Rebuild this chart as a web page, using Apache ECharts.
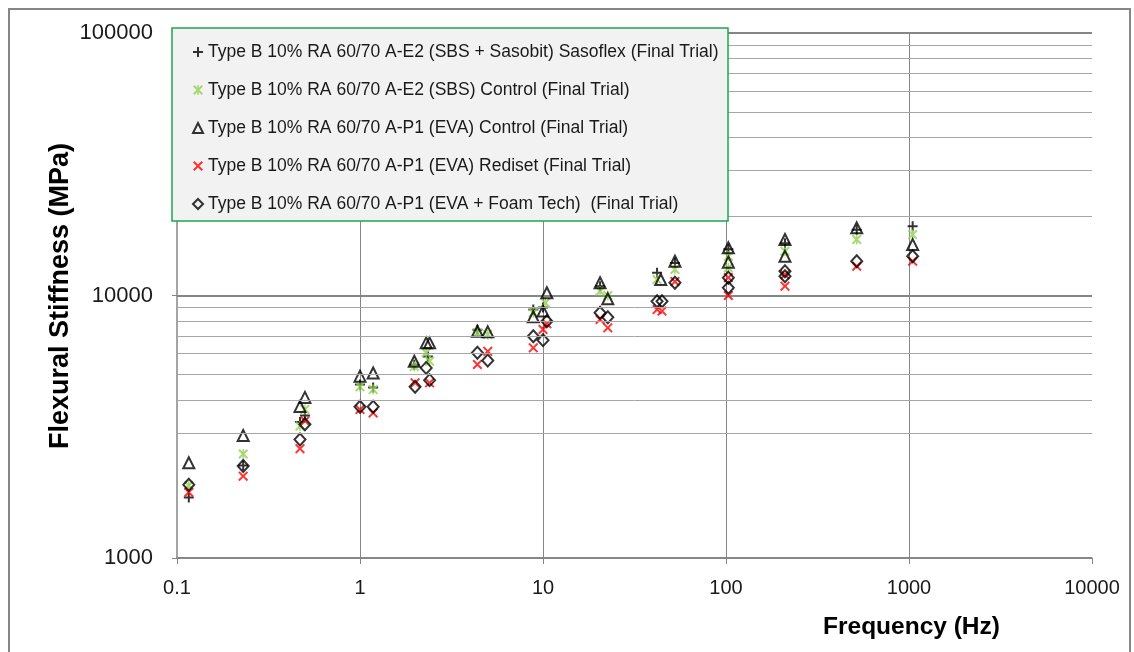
<!DOCTYPE html>
<html>
<head>
<meta charset="utf-8">
<script src="https://cdn.jsdelivr.net/npm/echarts@6/dist/echarts.min.js"></script>
<style>
  html, body { margin: 0; padding: 0; background: #fff; }
  #chart { width: 1134px; height: 652px; }
</style>
</head>
<body>
<div id="chart"></div>
<script>
// Flexural stiffness vs. loading frequency, 4-point bending, five mixes

const seriesNames = [
  'Type B 10% RA 60/70 A-E2 (SBS + Sasobit) Sasoflex (Final Trial)',
  'Type B 10% RA 60/70 A-E2 (SBS) Control (Final Trial)',
  'Type B 10% RA 60/70 A-P1 (EVA) Control (Final Trial)',
  'Type B 10% RA 60/70 A-P1 (EVA) Rediset (Final Trial)',
  'Type B 10% RA 60/70 A-P1 (EVA + Foam Tech)  (Final Trial)'
];

// SBS + Sasobit / Sasoflex
const sasoflexFreq = [0.116, 0.23, 0.47, 0.50, 1.0, 1.18, 1.98, 2.35, 4.38, 8.85, 10.0, 20.5, 42, 52.6, 103, 210, 518, 1047];
const sasoflexVal  = [1700, 2250, 3300, 3490, 4580, 4460, 5450, 5850, 7400, 8850, 9000, 10850, 12200, 13300, 15000, 15800, 17800, 18370];

// SBS control
const sbsFreq = [0.116, 0.23, 0.47, 0.50, 1.0, 1.18, 1.98, 2.3, 2.4, 4.38, 4.99, 8.85, 10.3, 20.5, 22.6, 42, 52.6, 103, 103, 210, 518, 1047];
const sbsVal  = [1890, 2490, 3180, 3680, 4490, 4380, 5370, 6050, 5620, 7200, 7100, 8600, 9380, 10380, 10000, 11500, 12560, 14100, 12750, 14750, 16340, 17070];

// EVA control
const evaFreq = [0.116, 0.23, 0.47, 0.50, 1.0, 1.18, 1.98, 2.3, 2.4, 4.38, 4.99, 8.85, 10.0, 10.5, 20.5, 22.6, 44, 52.6, 103, 103, 210, 210, 518, 1047];
const evaVal  = [2306, 2930, 3780, 4090, 4930, 5070, 5620, 6600, 6600, 7310, 7270, 8300, 8720, 10240, 11180, 9710, 11500, 13510, 15200, 13400, 16340, 14100, 18100, 15630];

// EVA + Rediset
const redisetFreq = [0.116, 0.23, 0.47, 0.50, 1.0, 1.18, 2.0, 2.4, 4.38, 4.99, 8.85, 10.0, 10.5, 20.5, 22.6, 42, 44.7, 52.6, 103, 103, 210, 210, 518, 1047];
const redisetVal  = [1780, 2050, 2610, 3330, 3680, 3570, 4650, 4650, 5460, 6130, 6320, 7420, 7800, 8100, 7530, 8840, 8720, 11300, 11700, 10000, 10850, 12000, 12930, 13510];

// EVA + Foam Tech
const foamFreq = [0.116, 0.23, 0.47, 0.50, 1.0, 1.18, 2.0, 2.3, 2.4, 4.38, 4.99, 8.85, 10.0, 10.5, 20.5, 22.6, 42, 44.7, 52.6, 103, 103, 210, 210, 518, 1047];
const foamVal  = [1900, 2240, 2830, 3230, 3770, 3770, 4490, 5300, 4760, 6050, 5650, 7000, 6760, 7980, 8590, 8270, 9510, 9510, 11180, 11680, 10700, 12380, 11850, 13510, 14100];

// light horizontal gridlines inside each decade
const minorGridValues = [3000, 4000, 5000, 6000, 7000, 8000, 9000,
                         20000, 30000, 40000, 50000, 60000, 70000, 80000, 90000];

const xTickLabels = ['0.1', '1', '10', '100', '1000', '10000'];
const yTickLabels = ['1000', '10000', '100000'];

const pairs = (f, v) => f.map((x, i) => [x, v[i]]);

const PLUS = 'path://M4,0H6V4H10V6H6V10H4V6H0V4H4Z';
const CROSS = 'path://M0,1.4L1.4,0L5,3.6L8.6,0L10,1.4L6.4,5L10,8.6L8.6,10L5,6.4L1.4,10L0,8.6L3.6,5Z';
const STAR = 'path://M0,1.4L1.4,0L5,3.6L8.6,0L10,1.4L6.4,5L10,8.6L8.6,10L5,6.4L1.4,10L0,8.6L3.6,5Z M4.3,0H5.7V10H4.3Z';

const FONT = "'Liberation Sans', Arial, sans-serif";

const chart = echarts.init(document.getElementById('chart'), null, { renderer: 'canvas' });

chart.setOption({
  animation: false,
  backgroundColor: '#ffffff',
  grid: { left: 177, right: 42, top: 33, bottom: 94, containLabel: false },
  xAxis: {
    type: 'log', logBase: 10, min: 0.1, max: 10000,
    axisLine: { show: true, lineStyle: { color: '#868686', width: 1.5 } },
    axisTick: { show: true, length: 6, lineStyle: { color: '#868686' } },
    axisLabel: {
      margin: 20, fontFamily: FONT, fontSize: 20, color: '#1a1a1a',
      formatter: (v) => {
        const k = Math.round(Math.log10(v)) + 1;
        return xTickLabels[k] !== undefined ? xTickLabels[k] : String(v);
      }
    },
    splitLine: { show: true, showMinLine: false, showMaxLine: false, lineStyle: { color: '#868686', width: 1 } },
    minorTick: { show: false },
    minorSplitLine: { show: false }
  },
  yAxis: {
    type: 'log', logBase: 10, min: 1000, max: 100000,
    axisLine: { show: true, lineStyle: { color: '#868686', width: 1.5 } },
    axisTick: { show: true, length: 5, lineStyle: { color: '#868686' } },
    axisLabel: {
      margin: 24, fontFamily: FONT, fontSize: 22, color: '#1a1a1a',
      formatter: (v) => {
        const k = Math.round(Math.log10(v)) - 3;
        return yTickLabels[k] !== undefined ? yTickLabels[k] : String(v);
      }
    },
    splitLine: { show: true, lineStyle: { color: '#868686', width: 2 } }
  },
  legend: {
    orient: 'vertical',
    left: 172, top: 28,
    padding: [15, 4, 8, 20],
    itemWidth: 10, itemHeight: 10,
    itemGap: 20,
    data: seriesNames,
    backgroundColor: '#f2f2f2',
    borderColor: '#1aa84c',
    borderWidth: 1.5,
    textStyle: { fontFamily: FONT, fontSize: 17.5, color: '#1a1a1a', lineHeight: 18, width: 516, overflow: 'none' },
    z: 6
  },
  graphic: [
    { type: 'rect', shape: { x: 9, y: 9, width: 1121, height: 660 }, silent: true,
      style: { fill: 'none', stroke: '#868686', lineWidth: 2 }, z: 0 },
    { type: 'text', x: 61, y: 296, rotation: Math.PI / 2, silent: true,
      style: { text: 'Flexural Stiffness (MPa)', font: "bold 27px 'Liberation Sans', Arial, sans-serif",
               fill: '#000', align: 'center', verticalAlign: 'middle' }, z: 5 },
    { type: 'text', left: 823, top: 615, silent: true,
      style: { text: 'Frequency (Hz)', font: "bold 24.5px 'Liberation Sans', Arial, sans-serif", fill: '#000' }, z: 5 }
  ],
  series: [
    {
      name: 'grid-minor', type: 'scatter', data: [], silent: true, z: 1,
      markLine: {
        silent: true, symbol: 'none', label: { show: false },
        lineStyle: { color: '#a6a6a6', width: 1, type: 'solid' },
        data: minorGridValues.map(v => ({ yAxis: v }))
      }
    },
    {
      name: seriesNames[0], type: 'scatter', data: pairs(sasoflexFreq, sasoflexVal),
      symbol: PLUS, symbolSize: 10, itemStyle: { color: '#000000' }
    },
    {
      name: seriesNames[1], type: 'scatter', data: pairs(sbsFreq, sbsVal),
      symbol: STAR, symbolSize: 10, itemStyle: { color: '#92d050' }
    },
    {
      name: seriesNames[2], type: 'scatter', data: pairs(evaFreq, evaVal),
      symbol: 'triangle', symbolSize: 11,
      itemStyle: { color: 'transparent', borderColor: '#000000', borderWidth: 2 }
    },
    {
      name: seriesNames[3], type: 'scatter', data: pairs(redisetFreq, redisetVal),
      symbol: CROSS, symbolSize: 10, itemStyle: { color: '#ff0000' }
    },
    {
      name: seriesNames[4], type: 'scatter', data: pairs(foamFreq, foamVal),
      symbol: 'diamond', symbolSize: [11, 12],
      itemStyle: { color: 'transparent', borderColor: '#000000', borderWidth: 2 }
    }
  ]
});
</script>
</body>
</html>
